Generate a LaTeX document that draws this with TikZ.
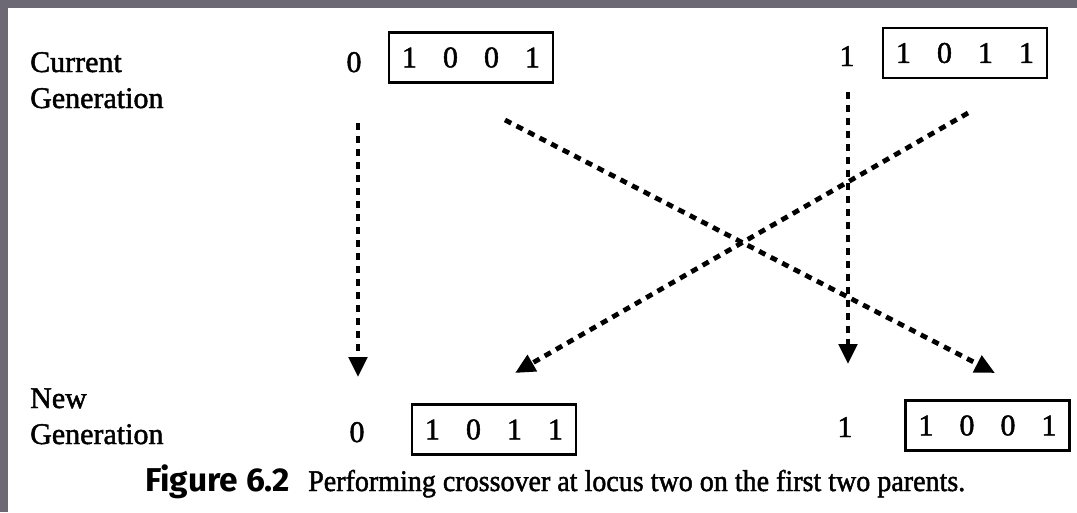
\documentclass[tikz,border=0pt]{standalone}
\usepackage{fontspec}
\usepackage{graphicx}
\setmainfont{Liberation Serif}[FakeBold=1.6]
\newfontfamily\capsans{Fira Sans}
\usetikzlibrary{arrows.meta}
\definecolor{framegray}{RGB}{108,104,116}
\tikzset{
  lbl/.style={anchor=base west, inner sep=0pt, font=\fontsize{30}{36}\selectfont},
  num/.style={anchor=base, inner sep=0pt, font=\fontsize{30}{36}\selectfont},
  chrom/.style={draw, line width=2.8pt, inner sep=0pt, minimum width=162pt, minimum height=50pt, font=\fontsize{30}{36}\selectfont},
  flow/.style={line width=4.8pt, dash pattern=on 7pt off 6pt, -{Triangle[length=20pt,width=18pt]}},
}
\newcommand{\dg}[1]{\makebox[41pt]{#1}}
\begin{document}
\begin{tikzpicture}[x=1pt,y=-1pt]
\fill[framegray] (0,0) rectangle (1077,512);
\fill[white] (8,8) rectangle (1077,512);
\useasboundingbox (0,0) rectangle (1077,512);
% labels
\node[lbl] (cur1) at (30,72) {Current};
\node[lbl] (cur2) at (30,108) {Generation};
\node[lbl] (new1) at (30,408) {New};
\node[lbl] (new2) at (30,444) {Generation};
% current generation
\node[num] (id1) at (354,72) {0};
\node[chrom] (p1) at (471,57.5) {\dg1\dg0\dg0\dg1};
\node[num] (id2) at (847,66) {1};
\node[chrom] (p2) at (965,53) {\dg1\dg0\dg1\dg1};
% new generation
\node[num] (id3) at (357,442) {0};
\node[chrom] (c1) at (494,429.5) {\dg1\dg0\dg1\dg1};
\node[num] (id4) at (845,437) {1};
\node[chrom] (c2) at (987.5,425.5) {\dg1\dg0\dg0\dg1};
% connectors
\coordinate (a1s) at (358,123);
\coordinate (a1e) at (358,377);
\coordinate (a2s) at (505,120);
\coordinate (a2e) at (995,373);
\coordinate (a3s) at (968,113);
\coordinate (a3e) at (515,373);
\coordinate (a4s) at (848,92);
\coordinate (a4e) at (848,364);
\draw[flow] (a1s) -- (a1e);
\draw[flow] (a2s) -- (a2e);
\draw[flow] (a3s) -- (a3e);
\draw[flow] (a4s) -- (a4e);
% caption
\node[anchor=base west, inner sep=0pt] (figlbl) at (145,491)
  {\resizebox{145pt}{\height}{\capsans\bfseries\fontsize{33}{38}\selectfont Figure 6.2}};
\node[anchor=base west, inner sep=0pt] (cap) at (308,491)
  {\resizebox{657pt}{\height}{\fontsize{30}{36}\selectfont Performing crossover at locus two on the first two parents.}};
\end{tikzpicture}
\end{document}
